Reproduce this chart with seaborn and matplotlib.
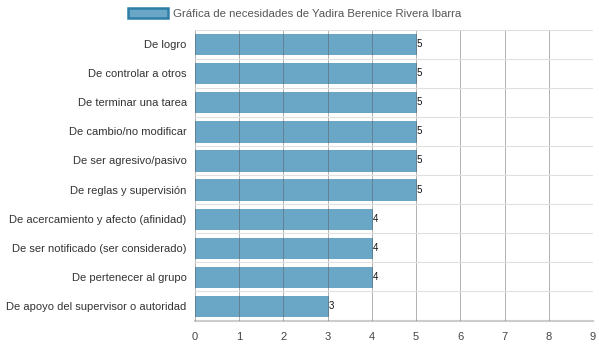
import matplotlib
matplotlib.use("Agg")
import matplotlib.pyplot as plt
import seaborn as sns
import pandas as pd
import numpy as np
from matplotlib.patches import Patch

categorias = [
    "De logro",
    "De controlar a otros",
    "De terminar una tarea",
    "De cambio/no modificar",
    "De ser agresivo/pasivo",
    "De reglas y supervisión",
    "De acercamiento y afecto (afinidad)",
    "De ser notificado (ser considerado)",
    "De pertenecer al grupo",
    "De apoyo del supervisor o autoridad",
]
valores = [5, 5, 5, 5, 5, 5, 4, 4, 4, 3]
serie = "Gráfica de necesidades de Yadira Berenice Rivera Ibarra"
x_ticks = [0, 1, 2, 3, 4, 5, 6, 7, 8, 9]

df = pd.DataFrame({"categoria": categorias, "valor": valores})

sns.set_theme(style="white")
plt.rcParams["font.family"] = ["Liberation Sans", "DejaVu Sans"]

fig = plt.figure(figsize=(5.99, 3.48), dpi=100)
ax = fig.add_axes([0.3255, 0.079, 0.6645, 0.836])

bar_color = "#6aa6c6"
sns.barplot(data=df, x="valor", y="categoria", orient="h", color=bar_color,
            saturation=1, width=0.7, ax=ax, edgecolor="#5e9cbd", linewidth=0.6)

ax.set_xlim(0, 9)
ax.set_ylim(len(categorias) - 0.5, -0.5)
ax.set_xticks(x_ticks)
ax.set_xticklabels([str(t) for t in x_ticks], fontsize=8, color="#444444")
ax.tick_params(axis="y", labelsize=8, labelcolor="#333333", length=0, pad=6)
ax.tick_params(axis="x", length=5, color="#aaaaaa", pad=3, width=0.8)

# category separators
ax.set_yticks(np.arange(len(categorias) + 1) - 0.5, minor=True)
ax.tick_params(axis="y", which="minor", length=5, color="#dddddd", width=0.8)
ax.grid(True, which="minor", axis="y", color="#e0e0e0", linewidth=0.8)
ax.grid(True, which="major", axis="x", color="#555555", linewidth=0.7, alpha=0.45)
ax.set_axisbelow(False)

for s in ["top", "right", "left"]:
    ax.spines[s].set_visible(False)
ax.spines["bottom"].set_color("#cccccc")
ax.spines["bottom"].set_linewidth(1.5)

ax.set_xlabel("")
ax.set_ylabel("")

for i, v in enumerate(valores):
    ax.text(v + 0.02, i, str(v), va="center", ha="left", fontsize=7, color="#111111")

leg_handle = Patch(facecolor=bar_color, edgecolor="#2f7ea8", linewidth=1.8)
fig.legend([leg_handle], [serie], loc="center", bbox_to_anchor=(0.4925, 0.962),
           frameon=False, fontsize=8.2, handlelength=3.5, handleheight=1.05,
           handletextpad=0.45, labelcolor="#555555")

fig.savefig("out.png", dpi=100)
